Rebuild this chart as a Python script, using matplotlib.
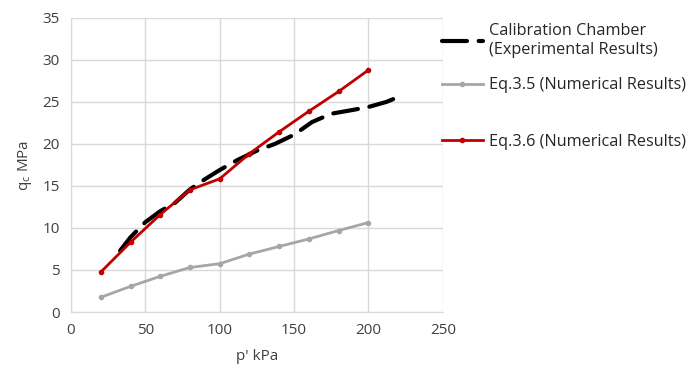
import matplotlib
matplotlib.use("Agg")
import matplotlib.pyplot as plt

plt.rcParams["font.family"] = ["Open Sans", "DejaVu Sans"]

# Calibration chamber (experimental, traced curve)
exp_p = [33, 40, 50, 60, 70, 80, 90, 100, 112, 125, 137, 150, 162, 175, 188, 200, 212, 223]
exp_qc = [7.3, 8.9, 10.7, 12.0, 13.0, 14.6, 15.8, 16.9, 18.1, 19.2, 20.0, 21.1, 22.6, 23.6, 24.0, 24.4, 25.0, 25.8]

# Eq. 3.5 / Eq. 3.6 numerical results
p_num = [20, 40, 60, 80, 100, 120, 140, 160, 180, 200]
qc_eq35 = [1.75, 3.05, 4.25, 5.3, 5.75, 6.9, 7.8, 8.7, 9.7, 10.65]
qc_eq36 = [4.75, 8.3, 11.6, 14.55, 15.85, 18.85, 21.45, 23.9, 26.25, 28.8]

fig = plt.figure(figsize=(6.93, 3.73), dpi=100)
ax = fig.add_axes([0.1025, 0.1635, 0.5365, 0.7885])

l1, = ax.plot(exp_p, exp_qc, color="black", lw=3, ls=(0, (6.0, 2.8)),
              solid_capstyle="round", dash_capstyle="round",
              label="Calibration Chamber\n(Experimental Results)")
l2, = ax.plot(p_num, qc_eq35, color="#a6a6a6", lw=2, marker="o", ms=3,
              label="Eq.3.5 (Numerical Results)")
l3, = ax.plot(p_num, qc_eq36, color="#c00000", lw=2, marker="o", ms=3,
              label="Eq.3.6 (Numerical Results)")

ax.set_xlim(0, 250)
ax.set_ylim(0, 35)
ax.set_xticks(range(0, 251, 50))
ax.set_yticks(range(0, 36, 5))
ax.grid(color="#d9d9d9", lw=1)
ax.set_axisbelow(True)
for s in ["top", "right"]:
    ax.spines[s].set_visible(False)
for s in ["left", "bottom"]:
    ax.spines[s].set_color("#d9d9d9")
ax.tick_params(length=0, labelsize=11, colors="#404040", pad=8)
ax.set_xlabel("p' kPa", fontsize=11, color="#404040", labelpad=8)
ax.set_ylabel(r"q$_\mathregular{c}$ MPa", fontsize=11, color="#404040", labelpad=6)

leg_kw = dict(frameon=False, fontsize=11.7, handlelength=2.5, handletextpad=0.4,
              labelcolor="#262626", borderaxespad=0, borderpad=0)
fig.legend(handles=[l1, l2], loc="upper left", bbox_to_anchor=(0.638, 0.937),
           labelspacing=1.2, **leg_kw)
fig.legend(handles=[l3], loc="center left", bbox_to_anchor=(0.638, 0.62), **leg_kw)

fig.savefig("out.png", dpi=100)
